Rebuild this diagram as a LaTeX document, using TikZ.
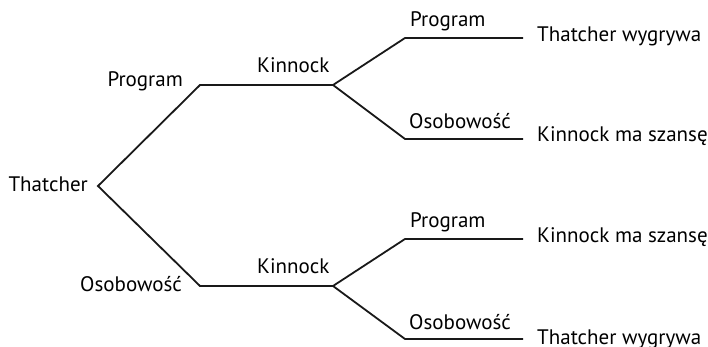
\documentclass[tikz,border=0pt]{standalone}
\usepackage{fontspec}
\setmainfont{PT Sans}
\begin{document}
\begin{tikzpicture}[x=1pt,y=-1pt,
  lbl/.style={inner sep=0pt,font=\fontsize{21}{25}\selectfont},
  lbll/.style={lbl,anchor=base east},
  lblr/.style={lbl,anchor=base west},
  branch/.style={line width=1.8pt,line join=miter,black!90}]
\useasboundingbox (0,0) rectangle (708,347);
% labels
\node[lbll] (thatcher) at (88,192) {Thatcher};
\node[lbll] (progL) at (183,87) {Program};
\node[lbll] (osobL) at (182,291) {Osobowość};
\node[lblr] (kin1) at (257,73) {Kinnock};
\node[lblr] (kin2) at (257,273) {Kinnock};
\node[lblr] (prog1) at (410,27) {Program};
\node[lblr] (osob1) at (409,129) {Osobowość};
\node[lblr] (prog2) at (410,227) {Program};
\node[lblr] (osob2) at (409,329) {Osobowość};
\node[lblr] (end1) at (537,42) {Thatcher wygrywa};
\node[lblr] (end2) at (537,142) {Kinnock ma szansę};
\node[lblr] (end3) at (537,242) {Kinnock ma szansę};
\node[lblr] (end4) at (537,344) {Thatcher wygrywa};
% vertices
\coordinate (r) at (98,186);
\coordinate (a) at (200,85);
\coordinate (k1) at (333,85);
\coordinate (b) at (200,286);
\coordinate (k2) at (333,286);
\coordinate (a1) at (405,38);
\coordinate (e1) at (523,38);
\coordinate (a2) at (405,139);
\coordinate (e2) at (523,139);
\coordinate (b1) at (405,239);
\coordinate (e3) at (523,239);
\coordinate (b2) at (405,339);
\coordinate (e4) at (523,339);
% connectors
\draw[branch] (k1) -- (a) -- (r) -- (b) -- (k2);
\draw[branch] (e1) -- (a1) -- (k1) -- (a2) -- (e2);
\draw[branch] (e3) -- (b1) -- (k2) -- (b2) -- (e4);
\end{tikzpicture}
\end{document}
